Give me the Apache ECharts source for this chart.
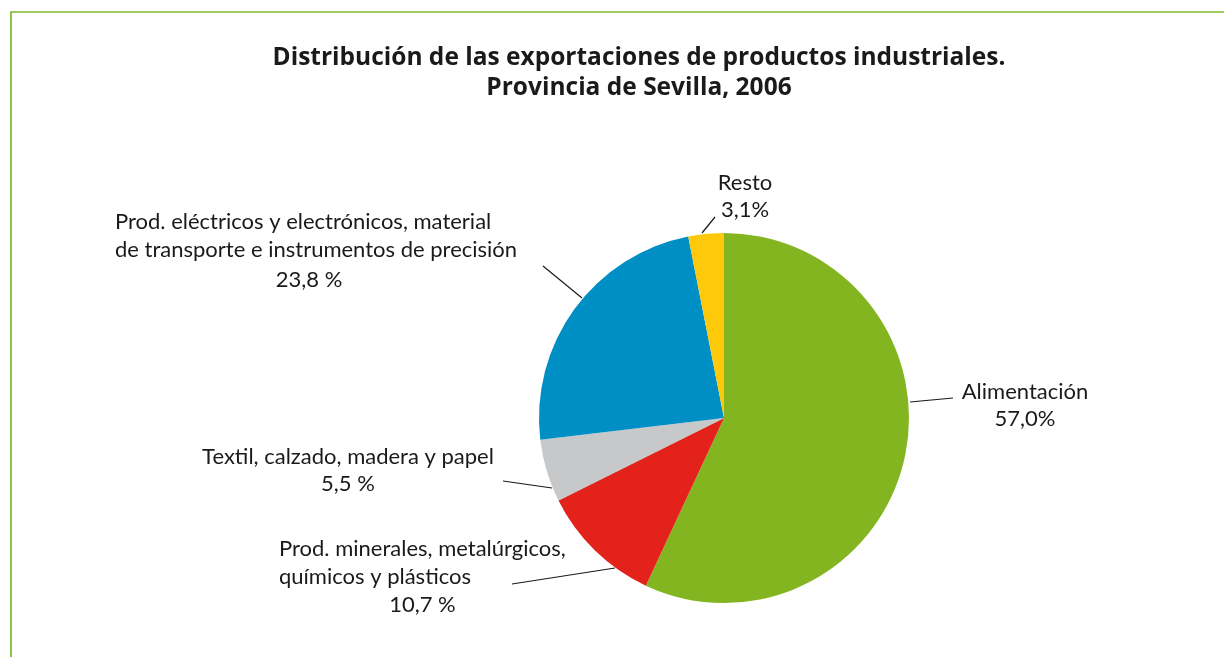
<!DOCTYPE html>
<html>
<head>
<meta charset="utf-8">
<script src="https://cdn.jsdelivr.net/npm/echarts@6/dist/echarts.min.js"></script>
<style>
  html, body { margin: 0; padding: 0; background: #fff; }
  #chart { width: 1224px; height: 657px; }
</style>
</head>
<body>
<div id="chart"></div>
<script>
// data
const categories = [
  'Alimentación',
  'Prod. minerales, metalúrgicos,\nquímicos y plásticos',
  'Textil, calzado, madera y papel',
  'Prod. eléctricos y electrónicos, material\nde transporte e instrumentos de precisión',
  'Resto'
]
const values = [57.0, 10.7, 5.5, 23.8, 3.1]
const pctSpace = ['', ' ', ' ', ' ', '']
const colors = ['#82b520', '#e2221b', '#c7c8ca', '#008fc4', '#fec80b']

// where each label sits and its leader line
const labelPos = [
  { x: 1025, y: 378, align: 'center' },
  { x: 279, y: 535, align: 'left' },
  { x: 348, y: 443, align: 'center' },
  { x: 115, y: 208, align: 'left' },
  { x: 745, y: 169, align: 'center' }
]
const leaderLines = [
  [[910, 402], [953, 398]],
  [[615, 568], [512, 584]],
  [[552, 488], [503, 481]],
  [[582, 298], [543, 266]],
  [[702, 233], [715, 217]]
]

const fmtPct = (v, i) => v.toFixed(1).replace('.', ',') + pctSpace[i] + '%'

const chart = echarts.init(document.getElementById('chart'))
const font = 'Lato, "Noto Sans", sans-serif'

chart.setOption({
  animation: false,
  title: {
    text: 'Distribución de las exportaciones de productos industriales.\nProvincia de Sevilla, 2006',
    left: 634,
    top: 38,
    textAlign: 'center',
    textStyle: {
      fontFamily: '"Open Sans", "Noto Sans", sans-serif',
      fontSize: 24.5,
      fontWeight: 'bold',
      color: '#1a1a1a',
      lineHeight: 30,
      align: 'center'
    }
  },
  graphic: [
    { type: 'line', shape: { x1: 10, y1: 12, x2: 1224, y2: 12 }, style: { stroke: '#9dcb5e', lineWidth: 2 } },
    { type: 'line', shape: { x1: 11, y1: 12, x2: 11, y2: 657 }, style: { stroke: '#8dc43f', lineWidth: 2 } }
  ],
  series: [{
    type: 'pie',
    center: [724, 418],
    radius: 185,
    startAngle: 90,
    clockwise: true,
    avoidLabelOverlap: false,
    emphasis: { disabled: true },
    itemStyle: { borderWidth: 0 },
    data: categories.map((name, i) => ({
      name,
      value: values[i],
      itemStyle: { color: colors[i] }
    })),
    label: {
      show: true,
      fontFamily: font,
      fontSize: 22,
      color: '#1a1a1a',
      lineHeight: 27,
      formatter: (p) => {
        const i = p.dataIndex
        const pct = fmtPct(values[i], i)
        if (i === 1 || i === 3) {
          const lines = p.name.split('\n').map(l => '{a|' + l + '}')
          return lines.join('\n') + '\n{' + (i === 3 ? 'c' : 'b') + '|' + pct + '}'
        }
        return p.name + '\n' + pct
      },
      rich: {
        a: { fontFamily: font, fontSize: 22, color: '#1a1a1a', lineHeight: 28, align: 'left' },
        b: { fontFamily: font, fontSize: 22, color: '#1a1a1a', lineHeight: 28, align: 'center' },
        c: { fontFamily: font, fontSize: 22, color: '#1a1a1a', lineHeight: 31, align: 'center', padding: [0, 14, 0, 0] }
      }
    },
    labelLine: {
      show: true,
      lineStyle: { color: '#1a1a1a', width: 1.2 }
    },
    labelLayout: (p) => {
      const i = p.dataIndex
      const pos = labelPos[i]
      const pts = leaderLines[i]
      const mid = [(pts[0][0] + pts[1][0]) / 2, (pts[0][1] + pts[1][1]) / 2]
      return {
        x: pos.x,
        y: pos.y,
        align: pos.align,
        verticalAlign: 'top',
        labelLinePoints: [pts[0], mid, pts[1]]
      }
    }
  }]
})
</script>
</body>
</html>
